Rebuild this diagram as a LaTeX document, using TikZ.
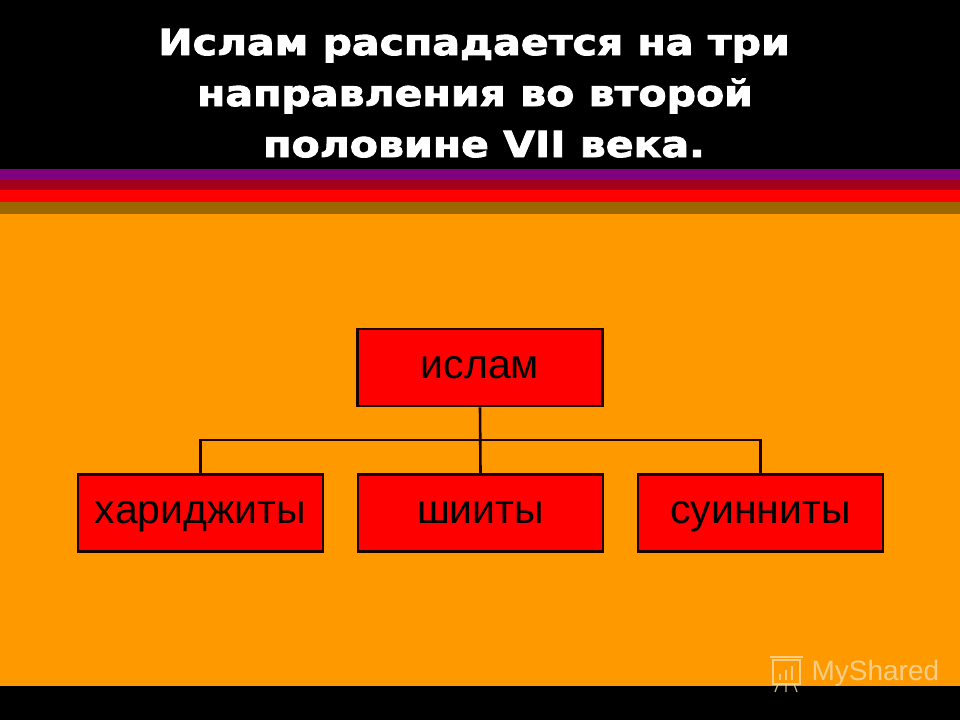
\documentclass[tikz,border=0pt]{standalone}
\usepackage{fontspec}
\setmainfont{Liberation Sans}
\newfontfamily\titlefont{DejaVu Sans}[BoldFeatures={FakeStretch=1.14,FakeBold=2.6}]
\definecolor{bgorange}{HTML}{FF9900}
\definecolor{spurple}{HTML}{80007E}
\definecolor{sdred}{HTML}{A3001C}
\definecolor{sred}{HTML}{FF0000}
\definecolor{sbrown}{HTML}{9C6600}
\definecolor{boxred}{HTML}{FF0000}
\definecolor{edge}{HTML}{1A0000}
\definecolor{wmark}{HTML}{F7DCA8}
\tikzset{
  box/.style={draw=edge, line width=2.8pt, fill=boxred, minimum width=245pt, minimum height=77pt,
    inner sep=0pt, font=\fontsize{41}{41}\selectfont, text height=21pt, text depth=0pt, text=black},
  link/.style={draw=edge, line width=2.6pt},
  title/.style={text=white, font=\titlefont\bfseries\fontsize{36}{36}\selectfont, anchor=base, inner sep=0pt}
}
\begin{document}
\begin{tikzpicture}[x=1pt,y=-1pt]
\useasboundingbox (0,0) rectangle (960,720);
% backgrounds
\fill[black] (0,0) rectangle (960,169);
\fill[spurple] (0,169) rectangle (960,179);
\fill[sdred] (0,179) rectangle (960,190);
\fill[sred] (0,190) rectangle (960,202);
\fill[sbrown] (0,202) rectangle (960,214);
\fill[bgorange] (0,214) rectangle (960,686);
\fill[black] (0,686) rectangle (960,720);
% title
\node[title] (t1) at (474,55) {Ислам распадается на три};
\node[title] (t2) at (475,106) {направления во второй};
\node[title] (t3) at (484,157) {половине VII века.};
% boxes
\node[box] (isl) at (480,367.5) {ислам};
\node[box] (har) at (200.5,513) {хариджиты};
\node[box] (shi) at (480.5,513) {шииты};
\node[box] (sun) at (760.5,513) {суинниты};
\coordinate (j) at (480.5,440);
\draw[link] (isl.south) -- (shi.north);
\draw[link] (har.north) |- (j) -| (sun.north);
% watermark
\node[text=wmark, opacity=0.8, font=\fontsize{28}{28}\selectfont, anchor=west] (wm) at (808,673) {MyShared};
\begin{scope}[draw=wmark, opacity=0.8, line width=1.3pt]
\draw (773,660) rectangle (800,684);
\draw (770,657) -- (803,657);
\draw (780,680) -- (780,674) (786,680) -- (786,670) (792,680) -- (792,666);
\draw (778,684) -- (775,692) (786,684) -- (786,692) (794,684) -- (797,692);
\end{scope}
\end{tikzpicture}
\end{document}
